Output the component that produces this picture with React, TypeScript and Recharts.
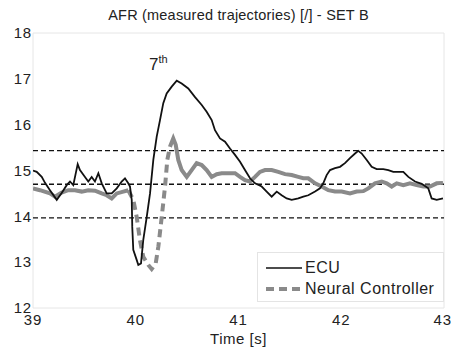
import React from 'react'
import { LineChart, Line, XAxis, YAxis, ReferenceLine, ReferenceArea, ReferenceDot } from 'recharts'

// ECU measured AFR trace
const ECU_TIME = [
  39.0, 39.036, 39.085, 39.117, 39.165, 39.231, 39.279, 39.328, 39.36, 39.392,
  39.435, 39.457, 39.506, 39.538, 39.571, 39.603, 39.636, 39.669, 39.717, 39.766,
  39.815, 39.863, 39.895, 39.927, 39.944, 39.961, 39.966, 39.976, 40.009, 40.025,
  40.051, 40.073, 40.107, 40.139, 40.171, 40.204, 40.236, 40.268, 40.301, 40.35,
  40.399, 40.447, 40.511, 40.577, 40.642, 40.69, 40.739, 40.771, 40.82, 40.869,
  40.917, 40.966, 41.015, 41.063, 41.112, 41.161, 41.226, 41.274, 41.323, 41.372,
  41.42, 41.469, 41.518, 41.582, 41.631, 41.679, 41.745, 41.793, 41.825, 41.858,
  41.891, 41.939, 41.988, 42.036, 42.085, 42.134, 42.166, 42.199, 42.248, 42.296,
  42.345, 42.409, 42.458, 42.507, 42.604, 42.653, 42.718, 42.783, 42.847, 42.88,
  42.929, 42.99,
]
const ECU_AFR = [
  15.0, 14.97, 14.86, 14.73, 14.57, 14.36, 14.51, 14.68, 14.76, 14.68,
  15.14, 15.01, 14.86, 14.76, 14.86, 14.76, 14.94, 14.72, 14.5, 14.5,
  14.61, 14.76, 14.83, 14.72, 14.65, 14.36, 13.77, 13.27, 13.05, 12.94,
  12.97, 13.48, 13.99, 14.5, 15.23, 15.74, 16.1, 16.47, 16.68, 16.83,
  16.96, 16.9, 16.79, 16.6, 16.43, 16.28, 16.1, 15.88, 15.7, 15.63,
  15.48, 15.34, 15.19, 15.01, 14.83, 14.72, 14.65, 14.54, 14.43, 14.54,
  14.46, 14.39, 14.36, 14.39, 14.43, 14.46, 14.54, 14.61, 14.72, 14.9,
  15.01, 15.05, 15.08, 15.16, 15.27, 15.37, 15.43, 15.37, 15.23, 15.08,
  15.03, 15.03, 15.01, 14.97, 14.97, 14.86, 14.76, 14.71, 14.61, 14.39,
  14.36, 14.39,
]

// Neural controller AFR trace
const NN_TIME = [
  39.0, 39.068, 39.165, 39.214, 39.279, 39.344, 39.409, 39.474, 39.538, 39.603,
  39.669, 39.717, 39.766, 39.815, 39.879, 39.927, 39.976, 40.009, 40.041, 40.073,
  40.122, 40.155, 40.194, 40.22, 40.253, 40.285, 40.307, 40.333, 40.365, 40.389,
  40.414, 40.447, 40.496, 40.544, 40.593, 40.642, 40.69, 40.739, 40.788, 40.836,
  40.901, 40.966, 41.015, 41.063, 41.112, 41.161, 41.209, 41.258, 41.323, 41.387,
  41.453, 41.518, 41.582, 41.631, 41.679, 41.745, 41.81, 41.874, 41.939, 42.004,
  42.085, 42.15, 42.215, 42.263, 42.328, 42.394, 42.442, 42.491, 42.54, 42.604,
  42.669, 42.734, 42.799, 42.864, 42.929, 42.99,
]
const NN_AFR = [
  14.61, 14.57, 14.5, 14.43, 14.52, 14.57, 14.57, 14.54, 14.57, 14.56,
  14.5, 14.46, 14.39, 14.5, 14.54, 14.57, 14.36, 13.99, 13.48, 13.12,
  12.94, 12.85, 12.97, 13.34, 13.99, 14.65, 15.23, 15.52, 15.7, 15.56,
  15.23, 15.01, 14.86, 15.01, 15.16, 15.12, 15.01, 14.86, 14.92, 14.94,
  14.94, 14.94, 14.86, 14.79, 14.76, 14.86, 14.97, 15.01, 15.01, 14.97,
  14.92, 14.9, 14.86, 14.83, 14.83, 14.72, 14.65, 14.57, 14.54, 14.54,
  14.5, 14.54, 14.55, 14.61, 14.72, 14.76, 14.72, 14.65, 14.72, 14.68,
  14.72, 14.68, 14.65, 14.65, 14.72, 14.73,
]

// transient window where the neural trace shows as dashes
const NN_DASH_FROM = 39.927
const NN_DASH_TO = 40.333

// stoichiometric band: 14.7 +/- 5%
const BAND = [15.435, 14.7, 13.965]

const X_TICKS = [39, 40, 41, 42, 43]
const Y_TICKS = [12, 13, 14, 15, 16, 17, 18]

const TITLE = 'AFR (measured trajectories) [/] - SET B'
const ANNOT_T = 40.12
const ANNOT_V = 17.21

const FONT = '"Liberation Sans", Arial, Helvetica, sans-serif'
const GRAY = '#8a8a8a'

const ecuData = ECU_TIME.map((t, i) => ({ t, v: ECU_AFR[i] }))
const nnData = NN_TIME.map((t, i) => ({ t, v: NN_AFR[i] }))
const nnBefore = nnData.filter(d => d.t <= NN_DASH_FROM)
const nnDash = nnData.filter(d => d.t >= NN_DASH_FROM && d.t <= NN_DASH_TO)
const nnAfter = nnData.filter(d => d.t >= NN_DASH_TO)

const tickStyle = { fontSize: 15, fill: '#222', fontFamily: FONT, letterSpacing: 0.8 }

const SeventhLabel = ({ viewBox }: any) => (
  <text x={viewBox.x + 1} y={viewBox.y + 1} fontFamily={FONT} fill="#222">
    <tspan fontSize={17}>7</tspan>
    <tspan fontSize={11} dy={-7}>th</tspan>
  </text>
)

const LegendBox = () => (
  <div style={{
    position: 'absolute', left: 257, top: 252, width: 187, height: 50, boxSizing: 'border-box',
    background: '#fff', border: '1px solid #e4e4e4', fontFamily: FONT, fontSize: 16, letterSpacing: 0.5, color: '#222',
  }}>
    <div style={{ position: 'absolute', left: 8, top: 5, display: 'flex', alignItems: 'center', height: 20 }}>
      <svg width={36} height={6}><line x1={0} y1={3} x2={36} y2={3} stroke="#111" strokeWidth={1.6} /></svg>
      <span style={{ marginLeft: 3 }}>ECU</span>
    </div>
    <div style={{ position: 'absolute', left: 8, top: 26, display: 'flex', alignItems: 'center', height: 20 }}>
      <svg width={36} height={6}><line x1={0} y1={3} x2={36} y2={3} stroke={GRAY} strokeWidth={4} strokeDasharray="8 5" /></svg>
      <span style={{ marginLeft: 3 }}>Neural Controller</span>
    </div>
  </div>
)

export default function App() {
  return (
    <div style={{ position: 'absolute', left: 0, top: 0, width: 451, height: 353, background: '#fff' }}>
      <div style={{
        position: 'absolute', left: 33, top: 7, width: 411, textAlign: 'center',
        fontFamily: FONT, fontSize: 14.5, letterSpacing: 0.2, color: '#222',
      }}>{TITLE}</div>
      <LineChart width={451} height={353} margin={{ top: 33, right: 7, bottom: 0, left: 0 }}>
        <XAxis
          type="number" dataKey="t" domain={[39, 43]} ticks={X_TICKS} allowDataOverflow
          height={45} tickLine={false} axisLine={false} tickMargin={0}
          tick={tickStyle}
          label={{ value: 'Time [s]', position: 'insideBottom', offset: 9, fontSize: 15, fill: '#222', fontFamily: FONT, letterSpacing: 0.5 }}
        />
        <YAxis
          type="number" domain={[12, 18]} ticks={Y_TICKS} allowDataOverflow
          width={33} tickLine={false} axisLine={false} tickSize={0} tickMargin={1}
          tick={tickStyle}
        />
        <ReferenceArea x1={39} x2={43} y1={12} y2={18} fill="none" stroke="#e6e6e6" />
        {BAND.map(y => (
          <ReferenceLine key={y} y={y} stroke="#111" strokeWidth={1.3} strokeDasharray="5 3" />
        ))}
        <Line data={nnBefore} dataKey="v" type="linear" stroke={GRAY} strokeWidth={4} dot={false} isAnimationActive={false} />
        <Line data={nnDash} dataKey="v" type="linear" stroke={GRAY} strokeWidth={4} strokeDasharray="8 5" dot={false} isAnimationActive={false} />
        <Line data={nnAfter} dataKey="v" type="linear" stroke={GRAY} strokeWidth={4} dot={false} isAnimationActive={false} />
        <Line data={ecuData} dataKey="v" type="linear" stroke="#111" strokeWidth={1.8} dot={false} isAnimationActive={false} />
        <ReferenceDot x={ANNOT_T} y={ANNOT_V} r={0} fill="none" stroke="none" label={<SeventhLabel />} />
      </LineChart>
      <LegendBox />
    </div>
  )
}
